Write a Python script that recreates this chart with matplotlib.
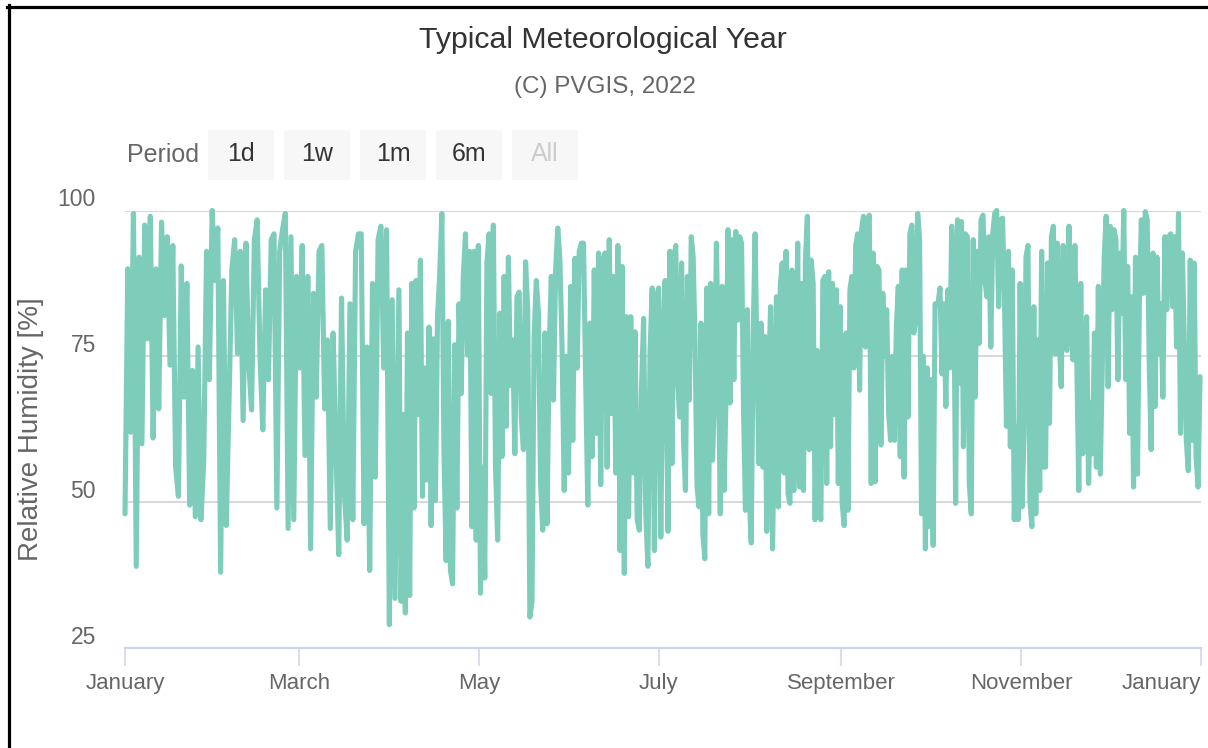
import numpy as np
import pandas as pd
import matplotlib
matplotlib.use("Agg")
import matplotlib.pyplot as plt
from matplotlib.lines import Line2D
from matplotlib.patches import Rectangle
from matplotlib.transforms import ScaledTranslation

plt.rcParams['font.family'] = ['Liberation Sans', 'DejaVu Sans']

# ---------------- data (relative humidity, %) ----------------
rh_jan_apr = [48, 90, 62, 99.5, 39, 92, 60, 97.5, 78, 99, 61, 90, 66, 98, 82, 95.5, 73.5, 94, 56, 51,
              90.5, 68, 87.5, 49.5, 72.6, 47.5, 76.6, 47, 57, 93, 71, 100, 88, 97, 38, 88, 46, 67.5, 90,
              95, 75.5, 93, 64, 94.4, 73.8, 65.8, 95, 98.4, 75, 62.4, 86.4, 71, 95, 96, 49, 93, 96.7,
              99.5, 45.5, 95.5, 47, 88.7, 73, 94, 58, 88.7, 42, 85.8, 68, 93, 94, 66, 77.8, 45.5, 79,
              59.5, 41, 85, 51.5, 43.5, 84, 47, 93, 96, 96, 46.3, 76.6, 38.3, 87.5, 54.3, 95, 97.3, 73,
              96.7, 29, 84.7, 33.5]
rh_apr_jul = [86.4, 33, 65, 31, 79, 34, 87.5, 49, 88, 65, 91.5, 51, 73, 53.8, 80, 46, 78, 50.3, 82, 89,
              99.5, 58, 40, 81, 38.3, 36, 77, 49, 84, 68.6, 88.7, 96, 75.2, 93, 45.8, 93, 43.5, 94, 34.4,
              56, 37, 91, 96, 68.6, 97.5, 56, 43.5, 82.4, 57.8, 88.7, 63, 92, 70, 77.8, 58.3, 85.2, 86,
              64.6, 59, 91.2, 83, 30.3, 33, 78.4, 88, 82.4, 53.2, 45.2, 79, 46.3, 76, 88.7, 67.5, 89.8,
              97, 91.5, 76.6, 52, 75, 55, 87, 60.6, 91.8, 73, 93, 94.4, 94.4, 71, 49.5, 80.7, 57.8, 89.8,
              61.8, 92.7, 53, 91.5, 92.7, 56, 95, 65.2, 88.7, 55, 94, 41.7, 90.4, 37.8, 81.8, 47.5, 81.8,
              55, 79.2, 47, 45.2, 69.5, 81.5, 48, 39, 76, 86.7, 41.7, 85.2, 86.7, 44, 78, 88]
rh_jul_oct = [45, 93, 56.6, 91.5, 94, 70.4, 64.6, 91, 60.6, 52, 88.7, 67.5, 95.5, 92, 76.6, 52.6, 49.2,
              80.7, 44.6, 40.3, 86.7, 48, 87.5, 57.2, 68.6, 94.4, 74.4, 48, 87, 52, 69.2, 96.7, 67, 95,
              71, 96.4, 81.2, 95.5, 94.4, 66.4, 48.6, 83, 51, 43, 78.4, 96, 73, 56.6, 80.7, 56, 78.4, 45,
              72, 83.5, 42, 63, 85.2, 49.2, 87, 91, 55, 93, 51.5, 49.8, 89.8, 52, 65, 94.4, 52.6, 87.5,
              52, 91.5, 99, 59, 91.5, 87.5, 47, 76, 48.6, 47, 88, 88.7, 53.2, 89.5, 59.5, 87.5, 65, 86.4,
              53.2, 83.5, 49.8, 46, 79, 48.6, 86.4, 88.7, 73, 94, 96, 69.2, 96.7, 99, 76.6, 97.8, 99.2,
              53.2, 92.7, 53.5, 90.4, 89.8, 59.8, 85.8, 75, 83, 65.2, 60.6, 75, 60.6, 80, 87, 57.8, 89.8,
              54.3, 89.8, 64.6, 96, 97.5, 79, 81.2, 99.5, 95, 48, 75, 42, 73, 45.8, 71, 42.6, 84]
rh_oct_dec = [84, 86.7, 72, 84, 66.4, 86.4, 73, 97.3, 90.4, 49.8, 98.4, 70.4, 98.1, 59.5, 96, 95.5, 53.2,
              48, 95, 68, 93, 77.2, 98.4, 99.2, 88, 85.2, 95.5, 76.6, 96, 99.5, 100, 83.5, 98.4, 98.7,
              84.7, 63, 93, 59.5, 89.8, 47, 63, 47, 87.5, 49.2, 61.8, 92, 94, 50.3, 45.8, 83.5, 48, 77.8,
              52, 93, 56, 56, 91, 63.5, 95.5, 97.3, 75.4, 94.4, 77.8, 69.8, 94, 76.6, 76, 97.3, 83, 74.4,
              94, 73.8, 52, 87.5, 58.3, 73.8, 81.8, 53.2, 67, 58.3, 79, 56, 87, 54.8, 73.8, 92, 99, 69.8,
              97.3, 83, 96.7, 95, 71, 92.7, 82.4, 100, 71, 90.4, 61.8, 85.2, 52.6, 92, 54.8, 84.7, 98.4,
              85.8, 99.8, 98.4, 74.4, 59, 92.7, 66.4, 92, 75.4, 84, 68, 95.5, 83, 95.5, 96, 83.5, 95.5,
              76.6, 99.5, 61.8, 92.7, 76.6, 60.6, 55.4, 91.5, 60.6, 91, 57.8, 52.6, 71.5]

segment_starts = ["2022-01-01 00:00", "2022-04-03 22:00", "2022-07-04 05:00", "2022-10-03 19:00"]
segment_ends   = ["2022-04-02 14:00", "2022-07-03 05:00", "2022-10-02 19:00", "2022-12-31 16:00"]
segments = [rh_jan_apr, rh_apr_jul, rh_jul_oct, rh_oct_dec]

tick_dates = ["2022-01-01", "2022-03-01", "2022-05-01", "2022-07-01", "2022-09-01", "2022-11-01", "2023-01-01"]
tick_labels = ["January", "March", "May", "July", "September", "November", "January"]
y_ticks = [25, 50, 75, 100]
buttons = ["1d", "1w", "1m", "6m", "All"]

title = "Typical Meteorological Year"
subtitle = "(C) PVGIS, 2022"
y_title = "Relative Humidity [%]"

# ---------------- build series ----------------
times, values = [], []
for s, e, vals in zip(segment_starts, segment_ends, segments):
    times.append(pd.date_range(s, e, periods=len(vals)))
    values.append(np.asarray(vals, dtype=float))
t = np.concatenate([tt.to_pydatetime() for tt in times])
v = np.concatenate(values)

# ---------------- figure ----------------
W, H = 1208, 748
fig = plt.figure(figsize=(W / 100, H / 100), dpi=100)
fig.patch.set_facecolor("white")

def fx(px):
    return px / W

def fy(py):
    return 1 - py / H

ax_left, ax_right, ax_top, ax_bottom = 125, 1201, 210.5, 648
ax = fig.add_axes([fx(ax_left), fy(ax_bottom), fx(ax_right - ax_left), (ax_bottom - ax_top) / H])

line_color = "#7ecdbb"
ax.plot(t, v, color=line_color, lw=3.7, solid_joinstyle="round", solid_capstyle="round",
        clip_on=False, zorder=3)

ax.set_xlim(pd.Timestamp("2022-01-01"), pd.Timestamp("2023-01-01"))
ax.set_ylim(25, 100)

for sp in ["top", "right", "left"]:
    ax.spines[sp].set_visible(False)
ax.spines["bottom"].set_color("#ccd6eb")
ax.spines["bottom"].set_linewidth(1.6)
ax.spines["bottom"].set_zorder(4)

ax.set_xticks([pd.Timestamp(d) for d in tick_dates])
ax.set_xticklabels(tick_labels)
ax.tick_params(axis="x", direction="out", length=13, width=1.1, color="#ccd6eb",
               labelsize=16, labelcolor="#666666", pad=5)
xlabs = ax.get_xticklabels()
xlabs[-1].set_horizontalalignment("right")

ax.set_yticks(y_ticks)
ax.set_yticklabels([str(y) for y in y_ticks])
ax.tick_params(axis="y", length=0, labelsize=16.5, labelcolor="#666666", pad=21)
off = ScaledTranslation(0, 13 / 100, fig.dpi_scale_trans)
for lab in ax.get_yticklabels():
    lab.set_transform(lab.get_transform() + off)

ax.yaxis.grid(True, color="#d9d9d9", lw=1.5)
ax.set_axisbelow(True)

fig.text(fx(31), fy(429), y_title, rotation=90, ha="center", va="center",
         fontsize=20, color="#666666")

# titles
fig.text(fx(603), fy(40), title, ha="center", va="center", fontsize=21.8, color="#333333")
fig.text(fx(605), fy(87), subtitle, ha="center", va="center", fontsize=17.5, color="#666666")

# range selector
fig.text(fx(127), fy(155), "Period", ha="left", va="center", fontsize=18, color="#666666")
bx0, bw, bgap = 208, 66, 10
for i, b in enumerate(buttons):
    x0 = bx0 + i * (bw + bgap)
    fig.add_artist(Rectangle((fx(x0), fy(180)), bw / W, 50 / H, transform=fig.transFigure,
                             facecolor="#f7f7f7", edgecolor="none"))
    fig.text(fx(x0 + bw / 2), fy(154), b, ha="center", va="center", fontsize=18,
             color="#cccccc" if b == "All" else "#333333")

# frame (screenshot border)
fig.add_artist(Line2D([fx(8.5), fx(8.5)], [fy(5), fy(748)], transform=fig.transFigure,
                      color="black", lw=2.3))
fig.add_artist(Line2D([fx(7.5), fx(1208)], [fy(6.5), fy(6.5)], transform=fig.transFigure,
                      color="black", lw=2.3))

fig.savefig("out.png", dpi=100, facecolor="white")
